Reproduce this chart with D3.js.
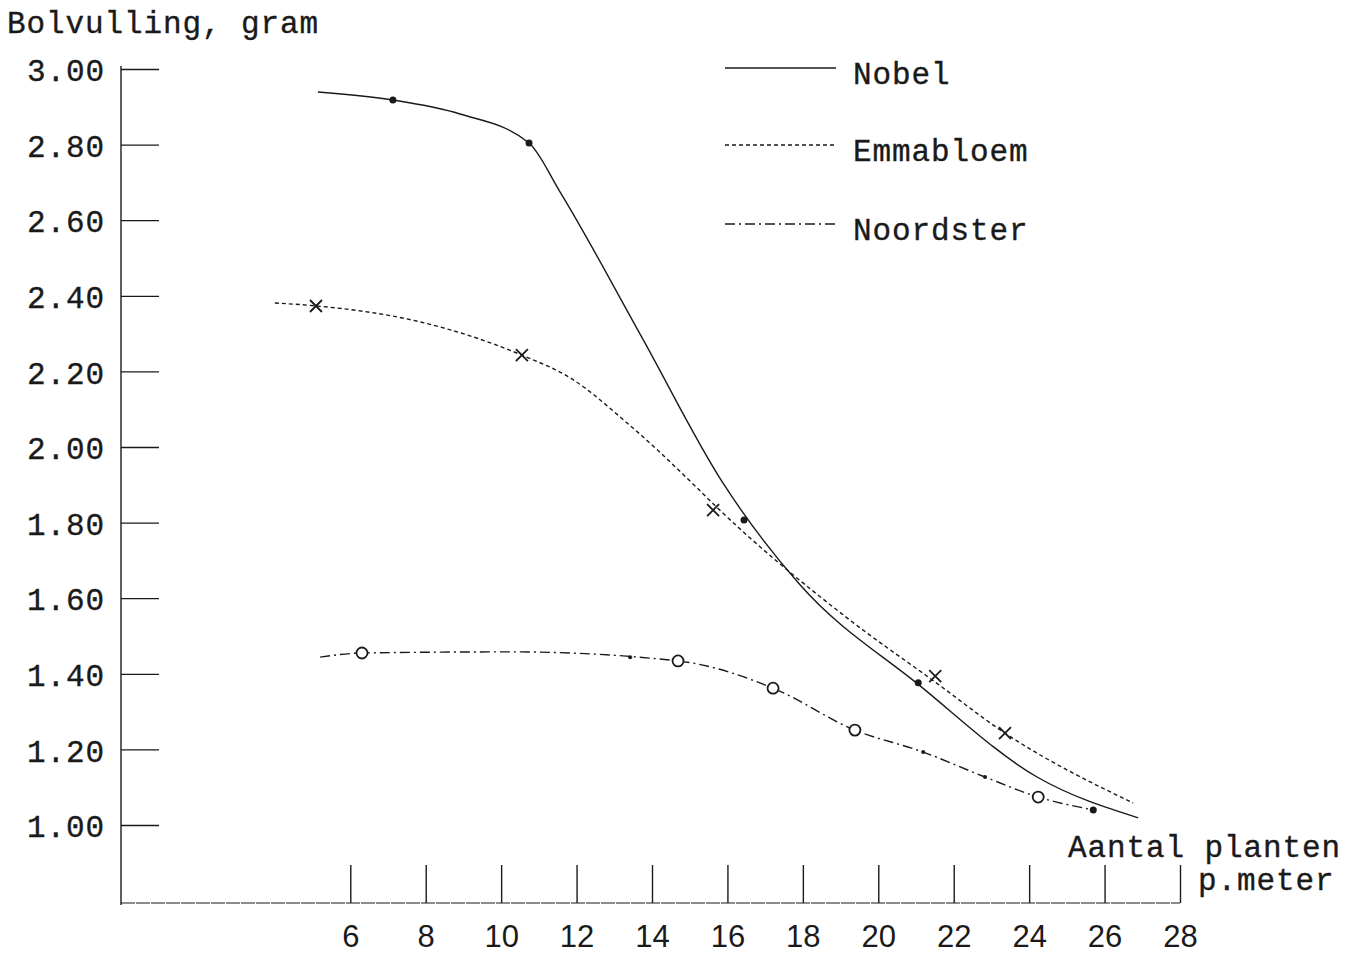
<!DOCTYPE html>
<html>
<head>
<meta charset="utf-8">
<script src="https://cdn.jsdelivr.net/npm/d3@7"></script>
<style>
  body { margin: 0; background: #fff; }
  svg { display: block; }
  .mono { font-family: "Liberation Mono", "DejaVu Sans Mono", monospace; font-size: 31px; letter-spacing: 0.9px; fill: #1a1a1a; stroke: #1a1a1a; stroke-width: 0.35px; }
  .xnum { font-family: "Liberation Sans", "DejaVu Sans", sans-serif; font-size: 31px; fill: #1a1a1a; }
</style>
</head>
<body>
<script>
// values
const xTicks = [6, 8, 10, 12, 14, 16, 18, 20, 22, 24, 26, 28];
const yTicks = [1.0, 1.2, 1.4, 1.6, 1.8, 2.0, 2.2, 2.4, 2.6, 2.8, 3.0];

// hand drawn curves: [plants per metre, gram]
const nobelLine = [[5.14, 2.939], [7.13, 2.918], [8.91, 2.881], [10.74, 2.804], [11.56, 2.675],
  [13.71, 2.294], [15.88, 1.905], [17.93, 1.635], [21.06, 1.372], [24.21, 1.127], [26.89, 1.019]];
const nobelDots = [[7.13, 2.918], [10.74, 2.804], [16.44, 1.807], [21.06, 1.376]];

const emmaLine = [[4.0, 2.381], [5.12, 2.373], [7.85, 2.331], [10.55, 2.243], [11.83, 2.183],
  [13.37, 2.061], [15.06, 1.905], [15.62, 1.85], [19.17, 1.548], [21.51, 1.378], [23.36, 1.243], [26.76, 1.058]];
const emmaCross = [[5.09, 2.373], [10.55, 2.243], [15.62, 1.833], [21.51, 1.394], [23.36, 1.243]];

const noordLine = [[5.2, 1.444], [6.31, 1.455], [10.32, 1.458], [14.69, 1.434], [17.21, 1.362],
  [19.38, 1.251], [21.19, 1.193], [22.83, 1.127], [24.24, 1.074], [25.7, 1.04]];
const noordRings = [[6.31, 1.455], [14.69, 1.434], [17.21, 1.362], [19.38, 1.251], [24.24, 1.074]];
const noordDots = [[13.42, 1.444], [21.19, 1.193], [22.83, 1.127], [25.7, 1.04]];

const legend = [
  {name: "Nobel", dash: null, y: 68},
  {name: "Emmabloem", dash: "4,3", y: 145},
  {name: "Noordster", dash: "10,4,2,4", y: 224}
];

const width = 1361, height = 955;
const ink = "#1a1a1a";

const svg = d3.select("body").append("svg")
    .attr("width", width)
    .attr("height", height);

const x = d3.scaleLinear().domain([0, 28]).range([124, 1180]);
const y = d3.scaleLinear().domain([1, 3]).range([825, 69]);
const baseY = 903, axisX = 121;

// axes
svg.append("g")
    .attr("transform", `translate(${axisX},0)`)
    .call(d3.axisLeft(y).tickValues(yTicks).tickSize(-38).tickPadding(16).tickFormat(d3.format(".2f")))
    .call(g => g.select(".domain").remove())
    .call(g => g.selectAll("line").attr("stroke", ink).attr("stroke-width", 1.3))
    .call(g => g.selectAll("text").attr("class", "mono").attr("font-size", null)
        .attr("font-family", null).attr("dy", "0.38em").attr("fill", null));

svg.append("g")
    .attr("transform", `translate(0,${baseY})`)
    .call(d3.axisBottom(x).tickValues(xTicks).tickSize(-38).tickPadding(22))
    .call(g => g.select(".domain").remove())
    .call(g => g.selectAll("line").attr("stroke", ink).attr("stroke-width", 1.4))
    .call(g => g.selectAll("text").attr("class", "xnum").attr("font-size", null)
        .attr("font-family", null).attr("fill", null));

svg.append("line")
    .attr("x1", axisX).attr("x2", axisX).attr("y1", 66).attr("y2", baseY + 2)
    .attr("stroke", ink).attr("stroke-width", 1.4);
svg.append("line")
    .attr("x1", axisX).attr("x2", x(28)).attr("y1", baseY).attr("y2", baseY)
    .attr("stroke", ink).attr("stroke-width", 1.2).attr("stroke-dasharray", "14,1");

// axis titles
svg.append("text").attr("class", "mono").attr("x", 7).attr("y", 33).text("Bolvulling, gram");
svg.append("text").attr("class", "mono").attr("x", 1068).attr("y", 857).text("Aantal planten");
svg.append("text").attr("class", "mono").attr("x", 1198).attr("y", 890).text("p.meter");

// curves
const line = d3.line().x(d => x(d[0])).y(d => y(d[1])).curve(d3.curveMonotoneX);

svg.append("path").datum(nobelLine).attr("d", line)
    .attr("fill", "none").attr("stroke", ink).attr("stroke-width", 1.4);
svg.append("path").datum(emmaLine).attr("d", line)
    .attr("fill", "none").attr("stroke", ink).attr("stroke-width", 1.4).attr("stroke-dasharray", "4,3");
svg.append("path").datum(noordLine).attr("d", line)
    .attr("fill", "none").attr("stroke", ink).attr("stroke-width", 1.4).attr("stroke-dasharray", "10,4,2,4");

// markers
svg.append("g").selectAll("circle").data(nobelDots).join("circle")
    .attr("cx", d => x(d[0])).attr("cy", d => y(d[1])).attr("r", 3.5).attr("fill", ink);

svg.append("g").selectAll("path").data(emmaCross).join("path")
    .attr("transform", d => `translate(${x(d[0])},${y(d[1])})`)
    .attr("d", "M-6,-6L6,6M-6,6L6,-6")
    .attr("stroke", ink).attr("stroke-width", 1.8);

svg.append("g").selectAll("circle").data(noordRings).join("circle")
    .attr("cx", d => x(d[0])).attr("cy", d => y(d[1])).attr("r", 5.5)
    .attr("fill", "#fff").attr("stroke", ink).attr("stroke-width", 1.8);

svg.append("g").selectAll("circle").data(noordDots).join("circle")
    .attr("cx", d => x(d[0])).attr("cy", d => y(d[1])).attr("r", d => d[0] > 25 ? 3.5 : 2)
    .attr("fill", ink);

// legend
const lg = svg.append("g").selectAll("g").data(legend).join("g")
    .attr("transform", d => `translate(0,${d.y})`);
lg.append("line").attr("x1", 725).attr("x2", 836).attr("y1", 0).attr("y2", 0)
    .attr("stroke", ink).attr("stroke-width", 1.4)
    .attr("stroke-dasharray", d => d.dash);
lg.append("text").attr("class", "mono").attr("x", 853).attr("y", 10).attr("dy", "0.2em")
    .text(d => d.name);
</script>
</body>
</html>
